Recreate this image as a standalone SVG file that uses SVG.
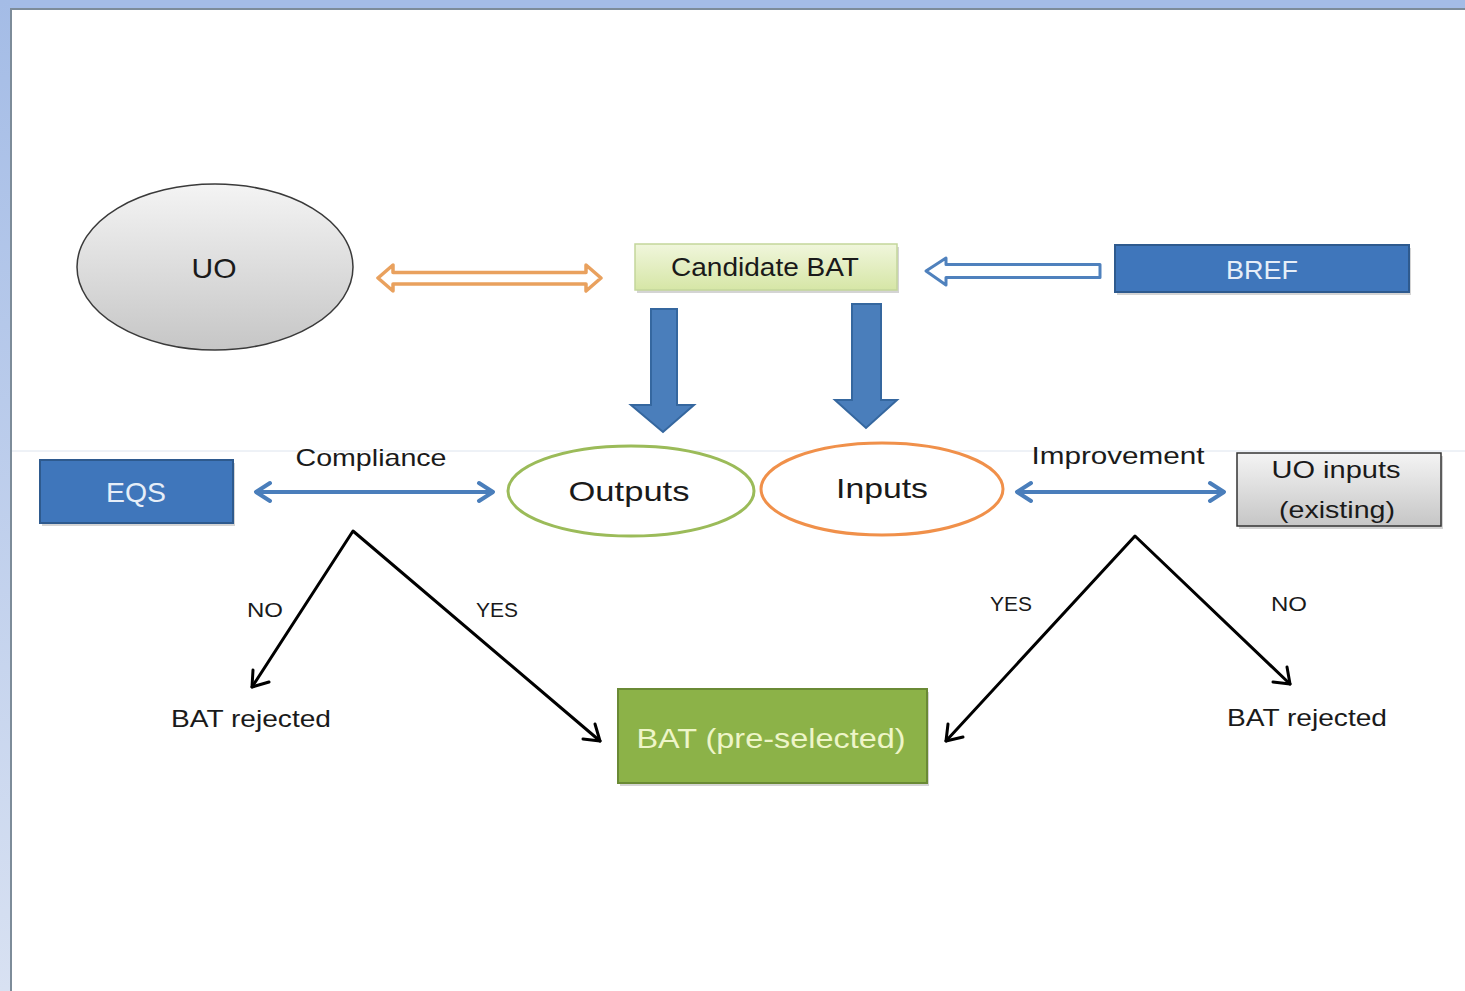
<svg xmlns="http://www.w3.org/2000/svg" width="1465" height="991" viewBox="0 0 1465 991">
<defs>
<linearGradient id="gGray" x1="0" y1="0" x2="0" y2="1"><stop offset="0" stop-color="#f4f4f4"/><stop offset="1" stop-color="#c6c6c6"/></linearGradient>
<linearGradient id="gCand" x1="0" y1="0" x2="0" y2="1"><stop offset="0" stop-color="#f0f6dc"/><stop offset="1" stop-color="#d6e6a6"/></linearGradient>
<linearGradient id="gLeft" x1="0" y1="0" x2="0" y2="1"><stop offset="0" stop-color="#a4bce6"/><stop offset="1" stop-color="#d8e1f2"/></linearGradient>
<style>
text{font-family:"Liberation Sans",Arial,sans-serif;text-anchor:middle;}
.dk{fill:#1a1a1a;}
.wt{fill:#e6eef8;}
.shadow{fill:#d4d4d4;}
.blue{fill:#4a7ebb;stroke:#35679f;stroke-width:2;}
.bl{stroke:#4a7ebb;stroke-width:4;fill:none;stroke-linecap:round;stroke-linejoin:round;}
.k{stroke:#000;stroke-width:3;fill:none;stroke-linecap:round;stroke-linejoin:round;}
</style>
</defs>
<rect x="0" y="0" width="1465" height="991" fill="#ffffff"/>
<rect x="0" y="0" width="1465" height="8" fill="#a4bce6"/>
<rect x="0" y="0" width="10" height="991" fill="url(#gLeft)"/>
<rect x="10" y="8" width="1455" height="2" fill="#7d8c99"/>
<rect x="10" y="8" width="2" height="983" fill="#7d8c99"/>
<line x1="12" y1="451" x2="1465" y2="451" stroke="#dde4ee" stroke-width="1"/>

<g id="connectors">
<path d="M378,278 L393,265 L393,272.5 L586,272.5 L586,265 L601,278 L586,291 L586,284 L393,284 L393,291 Z" fill="#ffffff" stroke="#e9a15e" stroke-width="3.5" stroke-linejoin="round"/>
<path d="M926,271 L946,258 L946,264.5 L1100,264.5 L1100,277.5 L946,277.5 L946,285 Z" fill="#ffffff" stroke="#4f81bd" stroke-width="3" stroke-linejoin="round"/>
<path d="M651,309 L677,309 L677,405 L694,405 L663,432 L631,405 L651,405 Z" class="blue"/>
<path d="M852,304 L881,304 L881,400 L897,400 L866,428 L835,400 L852,400 Z" class="blue"/>
<path d="M257,492 L492,492 M270,483 L256,492 L270,501 M479,483 L493,492 L479,501" class="bl"/>
<path d="M1018,492 L1223,492 M1031,483 L1017,492 L1031,501 M1210,483 L1224,492 L1210,501" class="bl"/>
<path d="M252,687 L353,531 L600,741" class="k"/>
<path d="M253,670 L252,687 L269,682" class="k"/>
<path d="M583,739 L600,741 L595,724" class="k"/>
<path d="M946,741 L1135,536 L1290,684" class="k"/>
<path d="M948,724 L946,741 L963,737" class="k"/>
<path d="M1273,682 L1290,684 L1287,667" class="k"/>
</g>

<g id="node-uo">
<ellipse cx="215" cy="267" rx="138" ry="83" fill="url(#gGray)" stroke="#3a3a3a" stroke-width="1.5"/>
<text x="214" y="278" font-size="28" class="dk" textLength="45" lengthAdjust="spacingAndGlyphs">UO</text>
</g>
<g id="node-candidate">
<rect x="637" y="247" width="262" height="46" class="shadow"/>
<rect x="635" y="244" width="262" height="46" fill="url(#gCand)" stroke="#c3d69b" stroke-width="1.5"/>
<text x="765" y="276" font-size="25" class="dk" textLength="188" lengthAdjust="spacingAndGlyphs">Candidate BAT</text>
</g>
<g id="node-bref">
<rect x="1117" y="248" width="294" height="47" class="shadow"/>
<rect x="1115" y="245" width="294" height="47" fill="#3f76bb" stroke="#2e5a8e" stroke-width="2"/>
<text x="1262" y="279" font-size="26" class="wt" textLength="72" lengthAdjust="spacingAndGlyphs">BREF</text>
</g>
<g id="node-eqs">
<rect x="42" y="463" width="193" height="63" class="shadow"/>
<rect x="40" y="460" width="193" height="63" fill="#3f76bb" stroke="#2e5a8e" stroke-width="2"/>
<text x="136" y="502" font-size="28" class="wt" textLength="60" lengthAdjust="spacingAndGlyphs">EQS</text>
</g>
<g id="label-compliance">
<text x="371" y="466" font-size="24" class="dk" textLength="151" lengthAdjust="spacingAndGlyphs">Compliance</text>
</g>
<g id="node-outputs">
<ellipse cx="631" cy="491" rx="123" ry="45" fill="#ffffff" stroke="#9bbb59" stroke-width="3"/>
<text x="629" y="501" font-size="28" class="dk" textLength="121" lengthAdjust="spacingAndGlyphs">Outputs</text>
</g>
<g id="node-inputs">
<ellipse cx="882" cy="489" rx="121" ry="46" fill="#ffffff" stroke="#f0904a" stroke-width="3"/>
<text x="882" y="498" font-size="28" class="dk" textLength="92" lengthAdjust="spacingAndGlyphs">Inputs</text>
</g>
<g id="label-improvement">
<text x="1118" y="464" font-size="24" class="dk" textLength="173" lengthAdjust="spacingAndGlyphs">Improvement</text>
</g>
<g id="node-uo-inputs">
<rect x="1239" y="456" width="204" height="73" class="shadow"/>
<rect x="1237" y="453" width="204" height="73" fill="url(#gGray)" stroke="#333333" stroke-width="1.5"/>
<text x="1336" y="478" font-size="24" class="dk" textLength="129" lengthAdjust="spacingAndGlyphs">UO inputs</text>
<text x="1337" y="518" font-size="24" class="dk" textLength="116" lengthAdjust="spacingAndGlyphs">(existing)</text>
</g>
<g id="labels-left">
<text x="265" y="617" font-size="20" class="dk" textLength="36" lengthAdjust="spacingAndGlyphs">NO</text>
<text x="497" y="617" font-size="20" class="dk" textLength="42" lengthAdjust="spacingAndGlyphs">YES</text>
</g>
<g id="node-rejected-left">
<text x="251" y="727" font-size="24" class="dk" textLength="160" lengthAdjust="spacingAndGlyphs">BAT rejected</text>
</g>
<g id="labels-right">
<text x="1011" y="611" font-size="20" class="dk" textLength="42" lengthAdjust="spacingAndGlyphs">YES</text>
<text x="1289" y="611" font-size="20" class="dk" textLength="36" lengthAdjust="spacingAndGlyphs">NO</text>
</g>
<g id="node-rejected-right">
<text x="1307" y="726" font-size="24" class="dk" textLength="160" lengthAdjust="spacingAndGlyphs">BAT rejected</text>
</g>
<g id="node-bat-preselected">
<rect x="620" y="692" width="309" height="94" class="shadow"/>
<rect x="618" y="689" width="309" height="94" fill="#8cb248" stroke="#6a8a35" stroke-width="2"/>
<text x="771" y="748" font-size="28" fill="#eef5c8" textLength="269" lengthAdjust="spacingAndGlyphs">BAT (pre-selected)</text>
</g>
</svg>
